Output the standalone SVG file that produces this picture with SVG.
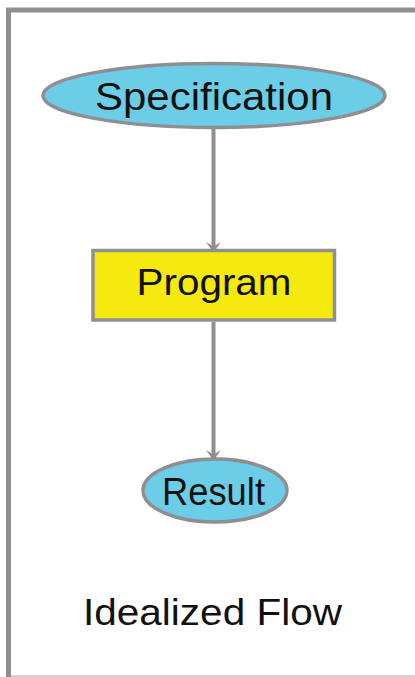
<svg xmlns="http://www.w3.org/2000/svg" width="415" height="677" viewBox="0 0 415 677">
  <style>
    .frame { stroke: #8f8f93; stroke-width: 5; fill: none; }
    .node { stroke: #8f8f93; stroke-width: 3.5; }
    .oval { fill: #6ccde6; }
    .box { fill: #f5e90f; }
    .label { font-family: "Liberation Sans", Arial, sans-serif; fill: #111; text-anchor: middle; }
    .edge { stroke: #8f8f93; stroke-width: 4; fill: none; }
  </style>
  <defs>
    <!-- notched arrowhead pointing along +x; orient="auto" turns it with the line -->
    <marker id="arrow" markerUnits="userSpaceOnUse" markerWidth="12" markerHeight="16" refX="11" refY="8" orient="auto" viewBox="0 0 12 16">
      <path d="M1,0.5 L5.5,8 L1,15.5 L11.5,8 Z" fill="#8f8f93"/>
    </marker>
  </defs>

  <rect width="415" height="677" fill="#ffffff"/>

  <!-- outer frame: heavy left and top edges, light bottom rule -->
  <g id="frame">
    <line class="frame" x1="8.5" y1="10" x2="8.5" y2="677"/>
    <line class="frame" x1="6" y1="10" x2="415" y2="10"/>
    <line x1="11" y1="676" x2="415" y2="676" stroke="#c4c4c6" stroke-width="1.5"/>
  </g>

  <g id="connectors">
    <line class="edge" x1="213.5" y1="128" x2="213.5" y2="252" marker-end="url(#arrow)"/>
    <line class="edge" x1="213.5" y1="322" x2="213.5" y2="460" marker-end="url(#arrow)"/>
  </g>

  <g id="specification">
    <ellipse class="node oval" cx="214" cy="95.5" rx="171" ry="32"/>
    <text class="label" x="214" y="110" font-size="38" textLength="238" lengthAdjust="spacingAndGlyphs">Specification</text>
  </g>

  <g id="program">
    <rect class="node box" x="93" y="250.5" width="241.5" height="69.5"/>
    <text class="label" x="214" y="295" font-size="37" textLength="155" lengthAdjust="spacingAndGlyphs">Program</text>
  </g>

  <g id="result">
    <ellipse class="node oval" cx="215" cy="490.5" rx="72" ry="31.5"/>
    <text class="label" x="213.5" y="505" font-size="38" textLength="103" lengthAdjust="spacingAndGlyphs">Result</text>
  </g>

  <g id="caption">
    <text class="label" x="212.5" y="625" font-size="37" textLength="259" lengthAdjust="spacingAndGlyphs">Idealized Flow</text>
  </g>
</svg>
